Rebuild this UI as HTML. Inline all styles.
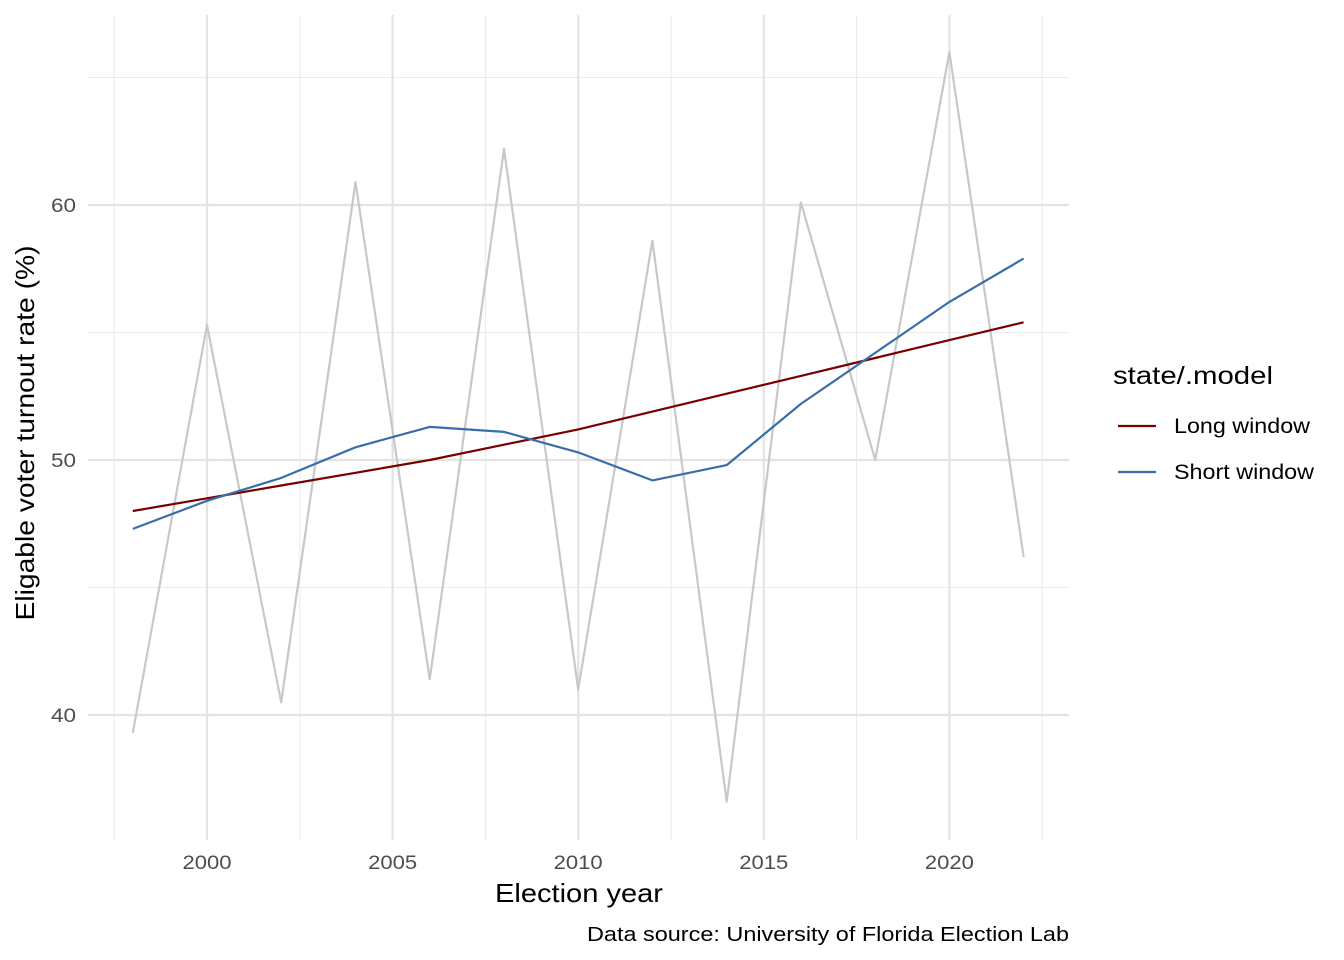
<!DOCTYPE html>
<html><head><meta charset="utf-8"><style>
body{margin:0;background:#fff;}
svg{display:block;font-family:"Liberation Sans",Arial,sans-serif;}
</style></head><body>
<svg id="chart" width="1344" height="960">
<g id="grid"></g>
<g id="series"></g>
<g id="axes"></g>
<text x="579" y="902" text-anchor="middle" font-size="26" textLength="168" lengthAdjust="spacingAndGlyphs" fill="#000">Election year</text>
<text transform="translate(34,433) rotate(-90)" text-anchor="middle" font-size="26" textLength="375" lengthAdjust="spacingAndGlyphs" fill="#000">Eligable voter turnout rate (%)</text>
<text x="1069" y="941" text-anchor="end" font-size="20" textLength="482" lengthAdjust="spacingAndGlyphs" fill="#000">Data source: University of Florida Election Lab</text>
<g>
<text x="1113" y="384" font-size="25" textLength="160" lengthAdjust="spacingAndGlyphs" fill="#000">state/.model</text>
<g><line x1="1118" x2="1156" y1="426" y2="426" stroke="#7a0000" stroke-width="2.2"/><text x="1174" y="433" font-size="21" textLength="136" lengthAdjust="spacingAndGlyphs" fill="#000">Long window</text></g>
<g><line x1="1118" x2="1156" y1="472" y2="472" stroke="#3a6ea8" stroke-width="2.2"/><text x="1174" y="479" font-size="21" textLength="140" lengthAdjust="spacingAndGlyphs" fill="#000">Short window</text></g>
</g>
</svg>
<script>
const years=[1998,2000,2002,2004,2006,2008,2010,2012,2014,2016,2018,2020,2022];
const actual=[39.3,55.3,40.5,60.9,41.4,62.2,41.0,58.6,36.6,60.1,50.0,66.0,46.2];
const longWindow=[48.0,48.5,49.0,49.5,50.0,50.6,51.2,51.9,52.6,53.3,54.0,54.7,55.4];
const shortWindow=[47.3,48.4,49.3,50.5,51.3,51.1,50.3,49.2,49.8,52.2,54.2,56.2,57.9];
const xTicks=[2000,2005,2010,2015,2020];
const xMinor=[1997.5,2002.5,2007.5,2012.5,2017.5,2022.5];
const yTicks=[40,50,60];
const yMinor=[45,55,65];
const NS="http://www.w3.org/2000/svg";
const X=v=>207+(v-2000)*37.12;
const Y=v=>460-(v-50)*25.5;
const L=88,R=1069,T=15,B=840;
function mk(tag,attrs,parent){const e=document.createElementNS(NS,tag);for(const k in attrs)e.setAttribute(k,attrs[k]);parent.appendChild(e);return e;}
const grid=document.getElementById('grid'),ser=document.getElementById('series'),axes=document.getElementById('axes');
xMinor.forEach(v=>{const l=mk('line',{x1:X(v),x2:X(v),y1:T,y2:B,stroke:'#ebebeb','stroke-width':1.1},grid);

});
yMinor.forEach(v=>{const l=mk('line',{x1:L,x2:R,y1:Y(v),y2:Y(v),stroke:'#ebebeb','stroke-width':1.1},grid);

});
xTicks.forEach(v=>{const l=mk('line',{x1:X(v),x2:X(v),y1:T,y2:B,stroke:'#e3e3e3','stroke-width':2.2},grid);


const t=mk('text',{x:X(v),y:869,'text-anchor':'middle','font-size':19,textLength:49,lengthAdjust:'spacingAndGlyphs',fill:'#4d4d4d'},axes);t.textContent=v;

});
yTicks.forEach(v=>{const l=mk('line',{x1:L,x2:R,y1:Y(v),y2:Y(v),stroke:'#e3e3e3','stroke-width':2.2},grid);


const t=mk('text',{x:76,y:Y(v)+7,'text-anchor':'end','font-size':19,textLength:25,lengthAdjust:'spacingAndGlyphs',fill:'#4d4d4d'},axes);t.textContent=v;

});
function line(vals,color,name){const d=vals.map((v,i)=>(i?'L':'M')+X(years[i]).toFixed(1)+','+Y(v).toFixed(1)).join(' ');
const p=mk('path',{d:d,fill:'none',stroke:color,'stroke-width':2.2,'stroke-linejoin':'round'},ser);

}
line(actual,'#c8c8c8','actual-turnout-line');
line(longWindow,'#7a0000','long-window-line');
line(shortWindow,'#3a6ea8','short-window-line');
</script>
</body></html>
